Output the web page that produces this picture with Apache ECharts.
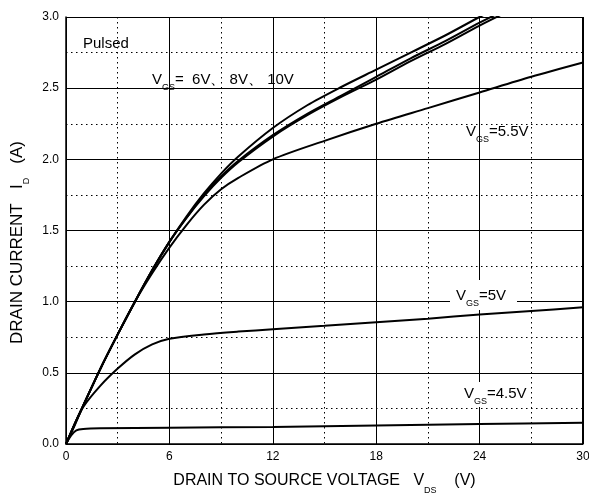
<!DOCTYPE html>
<html>
<head>
<meta charset="utf-8">
<script src="https://cdn.jsdelivr.net/npm/echarts@6/dist/echarts.min.js"></script>
<style>
html, body { margin: 0; padding: 0; background: #fff; }
#main { width: 589px; height: 493px; }
</style>
</head>
<body>
<div id="main"></div>
<script>
// curve data: [VDS, ID]
var vgs10 = [[0,0],[0.5,0.14],[1,0.27],[2,0.53],[3,0.77],[4,1.0],[5,1.22],[6,1.42],[7,1.6],[8,1.76],[9,1.9],[10,2.02],[12,2.22],[14,2.38],[16,2.51],[18,2.63],[20,2.75],[22,2.87],[24,3.0],[26,3.12]];
var vgs8 = [[0,0],[0.5,0.14],[1,0.27],[2,0.53],[3,0.77],[4,1.0],[5,1.22],[6,1.42],[7,1.59],[8,1.75],[9,1.88],[10,1.99],[12,2.17],[14,2.32],[16,2.45],[18,2.58],[20,2.71],[22,2.83],[24,2.96],[26,3.08]];
var vgs6 = [[0,0],[0.5,0.14],[1,0.27],[2,0.53],[3,0.77],[4,1.0],[5,1.22],[6,1.42],[7,1.59],[8,1.74],[9,1.87],[10,1.98],[12,2.16],[14,2.31],[16,2.44],[18,2.56],[20,2.69],[22,2.81],[24,2.94],[26,3.06]];
var vgs55 = [[0,0],[1,0.27],[2,0.53],[3,0.77],[4,1.0],[5,1.2],[6,1.38],[7,1.54],[8,1.68],[9,1.79],[10,1.87],[12,2.0],[15,2.13],[18,2.25],[21,2.36],[24,2.47],[27,2.58],[30,2.68]];
var vgs5 = [[0,0],[0.5,0.13],[1,0.26],[2,0.41],[3,0.53],[4,0.63],[5,0.7],[6,0.74],[8,0.77],[10,0.79],[12,0.806],[15,0.83],[18,0.855],[21,0.88],[24,0.91],[27,0.935],[30,0.96]];
var vgs45 = [[0,0],[0.3,0.06],[0.6,0.095],[1,0.105],[2,0.11],[6,0.115],[12,0.12],[18,0.13],[24,0.14],[30,0.15]];
var curves = [vgs10, vgs8, vgs6, vgs55, vgs5, vgs45];
var xTicks = [0, 6, 12, 18, 24, 30];

var chartDom = document.getElementById('main');
var myChart = echarts.init(chartDom, null, { renderer: 'canvas' });
var font = 'Liberation Sans, Arial, sans-serif';

function richText(size, subSize, drop) {
    return {
        a: { fontSize: size, fontFamily: font, color: '#000' },
        s: { fontSize: subSize, fontFamily: font, color: '#000', padding: [drop, 0, 0, 0] }
    };
}

function vLabel(x, y, rest) {
    return {
        type: 'text', left: x, top: y, z: 10,
        style: {
            text: '{a|V}{s|GS}{a|' + rest + '}',
            fill: '#000',
            rich: richText(15, 9, 16)
        }
    };
}

function whiteBox(x, y, w, h) {
    return { type: 'rect', left: x, top: y, z: 1,
        shape: { width: w, height: h }, style: { fill: '#fff' } };
}

var option = {
    animation: false,
    grid: { left: 66, right: 6, top: 17, bottom: 49, outerBoundsMode: 'none' },
    xAxis: {
        type: 'value', min: 0, max: 30, interval: 6,
        name: '{a|DRAIN TO SOURCE VOLTAGE   V}{s|DS}{a|    (V)}',
        nameLocation: 'middle', nameGap: 22,
        nameTextStyle: { rich: richText(16, 9, 20) },
        axisLine: { show: true, lineStyle: { color: '#000', width: 1.5 } },
        axisTick: { show: false },
        axisLabel: { color: '#000', fontSize: 12, fontFamily: font, margin: 7,
            formatter: function (v) { return xTicks.indexOf(v) >= 0 ? String(v) : ''; } },
        splitLine: { show: true, lineStyle: { color: '#000', width: 1 } },
        minorTick: { show: false, splitNumber: 2 },
        minorSplitLine: { show: true, lineStyle: { color: '#000', width: 1, type: [1.5, 3.5] } }
    },
    yAxis: {
        type: 'value', min: 0, max: 3, interval: 0.5,
        name: '{a|DRAIN CURRENT   I}{s|D}{a|   (A)}',
        nameLocation: 'middle', nameGap: 29, nameRotate: 90,
        nameTextStyle: { rich: richText(17, 9, 20), padding: [0, 24, 0, 0] },
        axisLine: { show: true, lineStyle: { color: '#000', width: 1.5 } },
        axisTick: { show: false },
        axisLabel: { color: '#000', fontSize: 12, fontFamily: font, margin: 7,
            formatter: function (v) { return v.toFixed(1); } },
        splitLine: { show: true, lineStyle: { color: '#000', width: 1 } },
        minorTick: { show: false, splitNumber: 2 },
        minorSplitLine: { show: true, lineStyle: { color: '#000', width: 1, type: [1.5, 3.5] } }
    },
    graphic: [
        whiteBox(450, 280, 67, 30),
        whiteBox(461, 382, 68, 25),
        { type: 'text', left: 83, top: 36, z: 10,
          style: { text: 'Pulsed', fill: '#000', fontSize: 15, fontFamily: font } },
        vLabel(152, 72, '=  6V\u3001 8V\u3001 10V'),
        vLabel(466, 124, '=5.5V'),
        vLabel(456, 288, '=5V'),
        vLabel(464, 386, '=4.5V'),
        { type: 'rect', left: 582, top: 17, z: 5,
          shape: { width: 1, height: 427 }, style: { fill: '#000' } }
    ],
    series: curves.map(function (d) {
        return {
            type: 'line', data: d, showSymbol: false, symbol: 'none',
            smooth: 0.3, clip: true, z: 3,
            lineStyle: { color: '#000', width: 2 }
        };
    })
};
option && myChart.setOption(option);
</script>
</body>
</html>
